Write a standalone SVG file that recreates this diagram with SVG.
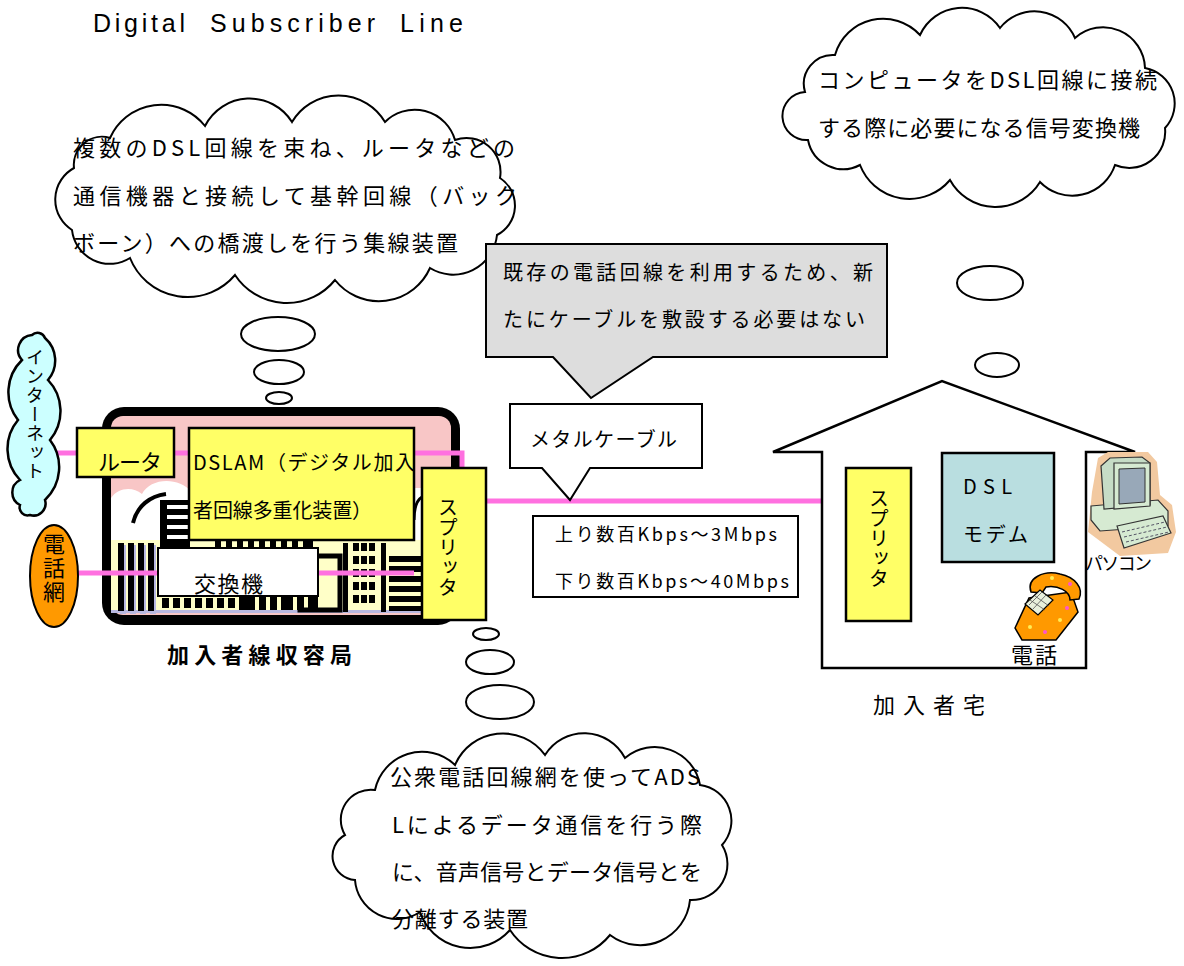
<svg xmlns="http://www.w3.org/2000/svg" width="1184" height="966" viewBox="0 0 1184 966">
<style>
  text { font-family: "Noto Sans CJK JP", "Liberation Sans", sans-serif; fill: #000; }
  .latin { font-family: "Liberation Sans", Arial, sans-serif; }
  .t22 { font-size: 22px; }
  .t20 { font-size: 20px; }
  .t18 { font-size: 18px; }
  .vert { writing-mode: vertical-rl; }
  .cloud { fill: #fff; stroke: #000; stroke-width: 2; }
  .bubble { fill: #fff; stroke: #000; stroke-width: 2; }
  .box { stroke: #000; stroke-width: 2.5; }
  .yellow { fill: #FFFF66; }
  .win { fill: #000; }
  .shadow { fill: #B8B8E0; }
  .link { stroke: #FF70E0; stroke-width: 5; fill: none; }
</style>

<!-- heading -->
<g id="title">
  <text class="latin" x="93" y="32" font-size="25" textLength="92" lengthAdjust="spacing">Digital</text>
  <text class="latin" x="210" y="32" font-size="25" textLength="165" lengthAdjust="spacing">Subscriber</text>
  <text class="latin" x="400" y="32" font-size="25" textLength="63" lengthAdjust="spacing">Line</text>
</g>

<!-- DSLAM note -->
<g id="note-dslam">
  <path class="cloud" d="M74,168 A28,28 0 0,1 110,138 A56,56 0 0,1 205,126 A50,50 0 0,1 292,122 A54,54 0 0,1 385,122 A42,42 0 0,1 455,140 A34,34 0 0,1 500,178 A33,33 0 0,1 497,235 A44,44 0 0,1 430,268 A56,56 0 0,1 335,280 A62,62 0 0,1 235,275 A62,62 0 0,1 130,258 A38,38 0 0,1 72,230 A36,36 0 0,1 74,168 Z"/>
  <ellipse class="bubble" cx="278" cy="334" rx="37" ry="17"/>
  <ellipse class="bubble" cx="279" cy="372" rx="25" ry="12"/>
  <ellipse class="bubble" cx="279" cy="398" rx="13" ry="6"/>
  <text class="t22" x="73" y="156" textLength="442" lengthAdjust="spacing">複数のDSL回線を束ね、ルータなどの</text>
  <text class="t22" x="73" y="204" textLength="444" lengthAdjust="spacing">通信機器と接続して基幹回線（バック</text>
  <text class="t22" x="73" y="251" textLength="385" lengthAdjust="spacing">ボーン）への橋渡しを行う集線装置</text>
</g>

<!-- modem note -->
<g id="note-modem">
  <path class="cloud" d="M805,92 A29,29 0 0,1 835,55 A50,50 0 0,1 920,35 A46,46 0 0,1 1000,28 A44,44 0 0,1 1075,38 A42,42 0 0,1 1145,68 A36,36 0 0,1 1165,128 A36,36 0 0,1 1115,165 A45,45 0 0,1 1040,182 A52,52 0 0,1 950,180 A53,53 0 0,1 860,165 A36,36 0 0,1 808,140 A24,24 0 0,1 805,92 Z"/>
  <ellipse class="bubble" cx="990" cy="283" rx="33" ry="17"/>
  <ellipse class="bubble" cx="997" cy="365" rx="22" ry="12"/>
  <ellipse class="bubble" cx="1000" cy="436" rx="12" ry="6"/>
  <text class="t22" x="818" y="88" textLength="339" lengthAdjust="spacing">コンピュータをDSL回線に接続</text>
  <text class="t22" x="818" y="136" textLength="322" lengthAdjust="spacing">する際に必要になる信号変換機</text>
</g>

<!-- splitter note -->
<g id="note-splitter">
  <ellipse class="bubble" cx="486" cy="634" rx="13" ry="6"/>
  <ellipse class="bubble" cx="490" cy="662" rx="24" ry="12"/>
  <ellipse class="bubble" cx="500" cy="702" rx="34" ry="17"/>
  <path class="cloud" d="M345,835 A30,30 0 0,1 375,790 A48,48 0 0,1 455,765 A52,52 0 0,1 545,755 A46,46 0 0,1 625,758 A46,46 0 0,1 700,785 A36,36 0 0,1 722,845 A36,36 0 0,1 690,900 A50,50 0 0,1 610,935 A62,62 0 0,1 510,930 A53,53 0 0,1 420,912 A42,42 0 0,1 355,880 A24,24 0 0,1 345,835 Z"/>
  <text class="t22" x="390" y="785" textLength="310" lengthAdjust="spacing">公衆電話回線網を使ってADS</text>
  <text class="t22" x="392" y="833" textLength="310" lengthAdjust="spacing">Lによるデータ通信を行う際</text>
  <text class="t22" x="392" y="880" textLength="310" lengthAdjust="spacing">に、音声信号とデータ信号とを</text>
  <text class="t22" x="392" y="927" textLength="136" lengthAdjust="spacing">分離する装置</text>
</g>

<!-- existing-line note -->
<g id="note-line">
  <path d="M486,244 H887 V357 H653 L591,398 L553,357 H486 Z" fill="#DDDDDD" stroke="#000" stroke-width="2"/>
  <text class="t20" x="503" y="280" textLength="370" lengthAdjust="spacing">既存の電話回線を利用するため、新</text>
  <text class="t20" x="503" y="327" textLength="362" lengthAdjust="spacing">たにケーブルを敷設する必要はない</text>
</g>

<!-- central office building -->
<g id="central-office">
  <rect x="102" y="407" width="358" height="218" rx="22" fill="#000"/>
  <rect x="111" y="416" width="340" height="199" rx="12" fill="#F8C6C6"/>
  <path d="M111,540 L111,498 C118,488 132,486 142,494 C150,478 178,476 192,492 L192,540 Z" fill="#fff"/>
  <path d="M133,523 C137,506 150,496 166,494" stroke="#000" stroke-width="4" fill="none"/>
  <rect x="414" y="488" width="8" height="52" fill="#fff"/>
  <path d="M414,520 C414,508 417,500 422,497" stroke="#000" stroke-width="3" fill="none"/>
  <rect x="111" y="540" width="340" height="72" fill="#FFFFC8"/>
  <rect x="111" y="610" width="340" height="3" fill="#B8B8E0"/>
  <!-- skyline -->
  <g>
    <rect class="shadow" x="120" y="545" width="6" height="69"/>
    <rect class="shadow" x="130" y="545" width="6" height="69"/>
    <rect class="shadow" x="140" y="545" width="6" height="69"/>
    <rect class="shadow" x="150" y="545" width="6" height="69"/>
    <rect class="win" x="118" y="543" width="6" height="68"/>
    <rect class="win" x="128" y="543" width="6" height="68"/>
    <rect class="win" x="138" y="543" width="6" height="68"/>
    <rect class="win" x="148" y="543" width="6" height="68"/>

    <rect class="win" x="160" y="500" width="30" height="48"/>
    <rect x="167" y="505" width="23" height="4" fill="#fff"/>
    <rect x="167" y="515" width="23" height="4" fill="#fff"/>
    <rect x="167" y="525" width="23" height="4" fill="#fff"/>
    <rect x="167" y="535" width="23" height="4" fill="#fff"/>

    <rect class="win" x="215" y="541" width="6" height="7"/>
    <rect class="win" x="226" y="541" width="6" height="7"/>
    <rect class="win" x="237" y="541" width="6" height="7"/>
    <rect class="win" x="248" y="541" width="6" height="7"/>
    <rect class="win" x="259" y="541" width="6" height="7"/>
    <rect class="win" x="270" y="541" width="6" height="7"/>
    <rect class="win" x="281" y="541" width="6" height="7"/>
    <rect class="win" x="292" y="541" width="6" height="7"/>
    <rect class="win" x="303" y="541" width="10" height="7"/>

    <rect class="win" x="162" y="598" width="7" height="10"/>
    <rect class="win" x="173" y="598" width="7" height="10"/>
    <rect class="win" x="184" y="598" width="7" height="10"/>
    <rect class="win" x="195" y="598" width="7" height="10"/>
    <rect class="win" x="206" y="598" width="7" height="10"/>
    <rect class="win" x="217" y="598" width="7" height="10"/>
    <rect class="win" x="228" y="598" width="7" height="10"/>
    <rect class="win" x="239" y="596" width="16" height="14"/>
    <rect class="win" x="259" y="596" width="7" height="14"/>
    <rect class="win" x="270" y="596" width="7" height="14"/>
    <rect class="win" x="281" y="596" width="12" height="14"/>
    <rect class="win" x="297" y="596" width="7" height="14"/>
    <rect class="win" x="308" y="596" width="10" height="14"/>

    <path d="M318,556 H340 V610 H300 V596" stroke="#000" stroke-width="5" fill="none"/>
    <rect class="win" x="343" y="543" width="5" height="69"/>
    <rect class="win" x="353" y="543" width="6" height="8"/>
    <rect class="win" x="361" y="543" width="6" height="8"/>
    <rect class="win" x="369" y="543" width="6" height="8"/>
    <rect class="win" x="353" y="556" width="6" height="8"/>
    <rect class="win" x="361" y="556" width="6" height="8"/>
    <rect class="win" x="369" y="556" width="6" height="8"/>
    <rect class="win" x="353" y="569" width="6" height="8"/>
    <rect class="win" x="361" y="569" width="6" height="8"/>
    <rect class="win" x="369" y="569" width="6" height="8"/>
    <rect class="win" x="353" y="582" width="6" height="8"/>
    <rect class="win" x="361" y="582" width="6" height="8"/>
    <rect class="win" x="369" y="582" width="6" height="8"/>
    <rect class="win" x="353" y="595" width="6" height="8"/>
    <rect class="win" x="361" y="595" width="6" height="8"/>
    <rect class="win" x="369" y="595" width="6" height="8"/>
    <rect class="win" x="381" y="543" width="5" height="69"/>
    <rect class="win" x="389" y="556" width="33" height="6"/>
    <rect class="win" x="389" y="566" width="33" height="6"/>
    <rect class="win" x="389" y="576" width="33" height="6"/>
    <rect class="win" x="389" y="586" width="33" height="6"/>
    <rect class="win" x="389" y="596" width="33" height="6"/>
    <rect class="win" x="389" y="606" width="33" height="5"/>
  </g>
  <text x="167" y="663" font-size="22" font-weight="bold" textLength="185" lengthAdjust="spacing">加入者線収容局</text>
</g>

<!-- connectors -->
<g id="connectors">
  <path class="link" d="M53,453 H77"/>
  <path class="link" d="M174,453 H189"/>
  <path class="link" d="M414,453 H462 V468"/>
  <path class="link" d="M78,573 H158"/>
  <path class="link" d="M318,573 H414"/>
  <path class="link" d="M486,501 H846"/>
  <path class="link" d="M911,501 H942"/>
  <path class="link" d="M1054,516 H1086" stroke-width="4"/>
  <path class="link" d="M911,597 H1025"/>
</g>

<g id="internet">
  <path d="M20,480 A45,45 0 0,1 18,420 A45,45 0 0,1 22,360 A15,15 0 0,1 32,335 A8,8 0 0,1 45,338 A30,30 0 0,1 48,380 A45,45 0 0,1 50,440 A45,45 0 0,1 45,500 A12,12 0 0,1 30,515 A8,8 0 0,1 20,505 A14,14 0 0,1 20,480 Z" fill="#CCFFFF" stroke="#000" stroke-width="2.5"/>
  <text class="vert" x="35" y="348" font-size="18" letter-spacing="1">インターネット</text>
</g>

<g id="phone-network">
  <ellipse cx="54" cy="576" rx="24" ry="51" fill="#FF9900" stroke="#000" stroke-width="2"/>
  <text class="vert" x="54" y="533" font-size="22" letter-spacing="2">電話網</text>
</g>

<g id="router">
  <rect class="box yellow" x="77" y="428" width="97" height="49"/>
  <text class="t22" x="98" y="470" textLength="64" lengthAdjust="spacing">ルータ</text>
</g>

<g id="dslam">
  <rect class="box yellow" x="189" y="428" width="225" height="112"/>
  <text class="t20" x="193" y="470" textLength="222" lengthAdjust="spacing">DSLAM（デジタル加入</text>
  <text class="t20" x="193" y="518" textLength="179" lengthAdjust="spacing">者回線多重化装置）</text>
</g>

<g id="exchange">
  <rect x="158" y="548" width="160" height="48" fill="#fff" stroke="#000" stroke-width="2"/>
  <text class="t22" x="194" y="592" textLength="69" lengthAdjust="spacing">交換機</text>
</g>

<g id="splitter-office">
  <rect class="box yellow" x="422" y="468" width="64" height="152"/>
  <text class="vert" x="448" y="497" font-size="20">スプリッタ</text>
</g>

<g id="metal-cable">
  <path d="M510,404 H702 V468 H590 L570,500 L542,468 H510 Z" fill="#fff" stroke="#000" stroke-width="2"/>
  <text class="t20" x="530" y="447" textLength="147" lengthAdjust="spacing">メタルケーブル</text>
</g>

<g id="speed">
  <rect x="533" y="516" width="265" height="81" fill="#fff" stroke="#000" stroke-width="2"/>
  <text class="t18" x="555" y="541" textLength="222" lengthAdjust="spacing">上り数百Kbps～3Mbps</text>
  <text class="t18" x="555" y="588" textLength="234" lengthAdjust="spacing">下り数百Kbps～40Mbps</text>
</g>

<!-- subscriber house -->
<g id="house">
  <polygon points="822,668 822,452 773,452 942,381 1135,452 1086,452 1086,668" fill="#fff" stroke="#000" stroke-width="2.5"/>
  <text class="t22" x="873" y="713" textLength="112" lengthAdjust="spacing">加入者宅</text>
</g>

<g id="splitter-home">
  <rect class="box yellow" x="846" y="468" width="65" height="153"/>
  <text class="vert" x="879" y="488" font-size="20">スプリッタ</text>
</g>

<g id="modem">
  <rect x="942" y="453" width="112" height="109" fill="#B9DEE0" stroke="#000" stroke-width="2.5"/>
  <text class="t20" x="963" y="494" textLength="49" lengthAdjust="spacing">DSL</text>
  <text class="t20" x="963" y="542" textLength="65" lengthAdjust="spacing">モデム</text>
</g>

<g id="pc">
  <path d="M1092,492 L1098,458 L1108,452 L1148,452 L1157,462 L1160,495 L1172,505 L1176,532 L1168,553 L1120,556 L1088,532 Z" fill="#F2C9A0"/>
  <polygon points="1091,506 1158,500 1168,511 1168,526 1100,531 1091,520" fill="#D6EAD2" stroke="#333" stroke-width="1.2"/>
  <polygon points="1101,466 1110,458 1142,457 1150,463 1150,505 1104,509" fill="#C6DCC6" stroke="#333" stroke-width="1.2"/>
  <polygon points="1114,463 1150,463 1150,506 1114,509" fill="#D6EAD2" stroke="#333" stroke-width="1.2"/>
  <polygon points="1119,469 1145,468 1145,502 1119,504" fill="#98A8B8" stroke="#333" stroke-width="1"/>
  <polygon points="1117,526 1163,516 1171,533 1124,548" fill="#D6EAD2" stroke="#333" stroke-width="1.2"/>
  <path d="M1122,532 L1165,522 M1124,537 L1167,527 M1126,542 L1169,532" stroke="#556" stroke-width="1" stroke-dasharray="3,2"/>
  <text class="t18" x="1085" y="570" textLength="67" lengthAdjust="spacing">パソコン</text>
</g>

<g id="telephone">
  <path d="M1015,628 L1029,598 L1071,592 L1078,612 L1056,640 L1022,640 Z" fill="#FF9900" stroke="#000" stroke-width="1.5"/>
  <path d="M1031,592 C1026,578 1044,570 1060,574 C1075,577 1084,588 1079,599 L1070,600 C1070,591 1058,585 1046,587 L1042,593 Z" fill="#FF9900" stroke="#000" stroke-width="1.5"/>
  <polygon points="1025,604 1040,590 1053,600 1038,615" fill="#E8F0DC" stroke="#000" stroke-width="1.2"/>
  <path d="M1030,600 L1045,610 M1035,596 L1049,606 M1033,609 L1046,595 M1029,605 L1042,592" stroke="#555" stroke-width="0.8"/>
  <circle cx="1030" cy="627" r="2" fill="#FFEE55"/>
  <circle cx="1045" cy="632" r="2" fill="#FF55CC"/>
  <circle cx="1060" cy="620" r="2" fill="#FFEE55"/>
  <circle cx="1067" cy="608" r="2" fill="#FF55CC"/>
  <circle cx="1052" cy="578" r="2" fill="#FFEE55"/>
  <circle cx="1070" cy="584" r="2" fill="#FF55CC"/>
  <text class="t22" x="1011" y="663" textLength="46" lengthAdjust="spacing">電話</text>
</g>
</svg>
